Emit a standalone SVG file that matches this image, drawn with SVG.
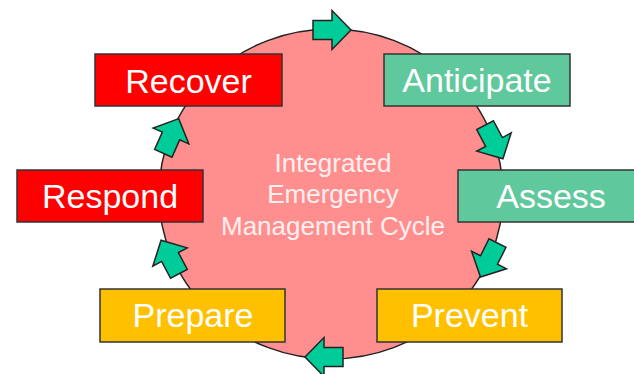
<svg xmlns="http://www.w3.org/2000/svg" width="634" height="374" viewBox="0 0 634 374">
<style>
.box{stroke:#333;stroke-width:1.5}
.red{fill:#FF0000}
.grn{fill:#5FC89C}
.yel{fill:#FFC000}
.lbl{font-family:"Liberation Sans",Arial,sans-serif;font-size:34px;fill:#fff;text-anchor:middle}
.ctr{font-family:"Liberation Sans",Arial,sans-serif;font-size:26px;fill:#FFF0F0;text-anchor:middle}
.arr{fill:#00CC99;stroke:#222;stroke-width:1.5;stroke-linejoin:miter}
</style>
<defs>
<polygon id="blk" points="-19,-9.5 0,-9.5 0,-19.5 19,0 0,19.5 0,9.5 -19,9.5"/>
</defs>
<g id="cycle">
<ellipse cx="331" cy="194" rx="172" ry="165" fill="#FF8F8F" stroke="#222" stroke-width="1.5"/>
<text class="ctr" x="333" y="172">Integrated</text>
<text class="ctr" x="333" y="203">Emergency</text>
<text class="ctr" x="333" y="235">Management Cycle</text>
</g>
<g id="recover"><rect class="box red" x="95" y="54" width="187" height="52"/><text class="lbl" x="188.5" y="93">Recover</text></g>
<g id="anticipate"><rect class="box grn" x="384" y="54" width="186" height="52"/><text class="lbl" x="477" y="92">Anticipate</text></g>
<g id="respond"><rect class="box red" x="17" y="170" width="186" height="52"/><text class="lbl" x="110" y="208">Respond</text></g>
<g id="assess"><rect class="box grn" x="458" y="170" width="187" height="52"/><text class="lbl" x="551" y="208">Assess</text></g>
<g id="prepare"><rect class="box yel" x="100" y="289" width="185" height="53"/><text class="lbl" x="193" y="327">Prepare</text></g>
<g id="prevent"><rect class="box yel" x="377" y="289" width="185" height="53"/><text class="lbl" x="469.5" y="327">Prevent</text></g>
<g id="connectors">
<use href="#blk" class="arr" transform="translate(332,30)"/>
<use href="#blk" class="arr" transform="translate(494,142) rotate(62)"/>
<use href="#blk" class="arr" transform="translate(489,260) rotate(116.6)"/>
<use href="#blk" class="arr" transform="translate(324,357) rotate(180)"/>
<use href="#blk" class="arr" transform="translate(170,257) rotate(-118)"/>
<use href="#blk" class="arr" transform="translate(171,136) rotate(-66)"/>
</g>
</svg>
